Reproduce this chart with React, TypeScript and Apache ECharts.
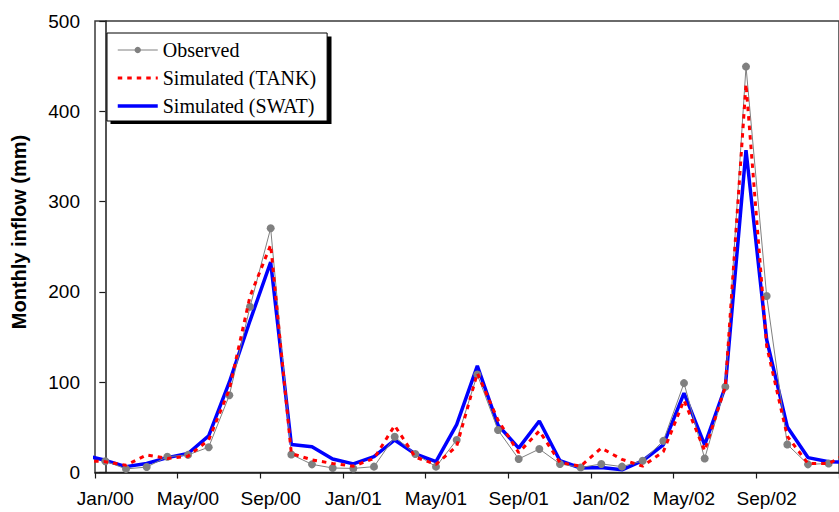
import { useEffect, useRef } from "react";
import * as echarts from "echarts";

// Month labels, Jan/00 .. Dec/02
const monthLabels = [
  "Jan/00", "Feb/00", "Mar/00", "Apr/00", "May/00", "Jun/00",
  "Jul/00", "Aug/00", "Sep/00", "Oct/00", "Nov/00", "Dec/00",
  "Jan/01", "Feb/01", "Mar/01", "Apr/01", "May/01", "Jun/01",
  "Jul/01", "Aug/01", "Sep/01", "Oct/01", "Nov/01", "Dec/01",
  "Jan/02", "Feb/02", "Mar/02", "Apr/02", "May/02", "Jun/02",
  "Jul/02", "Aug/02", "Sep/02", "Oct/02", "Nov/02", "Dec/02",
];

// Observed monthly inflow (mm), Jan/00 .. Dec/02
const observed = [
  12.5, 4, 6, 17.5, 19.5, 28, 85.5, 183.5, 270.5, 20, 9, 5,
  4.5, 6.5, 39.5, 20.5, 6.5, 36, 108.5, 47, 15, 26, 9.5, 5.5,
  9.5, 6.5, 13, 35, 99, 15.5, 95, 449.5, 195.5, 31, 9, 10,
];

// Simulated series run one month wider on each side: Dec/99 .. Jan/03
const tankSim = [
  13,
  12, 8, 19.5, 15.5, 18, 36, 92, 195, 252, 21, 14, 10,
  7, 15.5, 52, 17, 9, 29, 110, 58, 22, 46, 11, 7,
  27, 14.5, 7, 23, 80, 24, 95, 430, 140, 40, 10, 10,
  22,
];
const swatSim = [
  19,
  13.5, 6.5, 10, 16.5, 21, 40.5, 100, 168, 233, 31, 28.5, 15,
  9.5, 17.5, 36, 20.5, 12, 53, 118, 52.5, 27, 57, 13, 5,
  5.5, 3, 13, 30.5, 88, 30.5, 95, 357, 147, 50.5, 16.5, 12,
  11,
];

const yMin = 0;
const yMax = 500;
const yStep = 100;

const sansFont = '"Liberation Sans", Arial, Helvetica, sans-serif';
const serifFont = '"Liberation Serif", "Times New Roman", Times, serif';

export default function App() {
  const ref = useRef<HTMLDivElement>(null);

  useEffect(() => {
    if (!ref.current) return;
    const chart = echarts.init(ref.current, undefined, { renderer: "svg" });

    const obsData = observed.map((v, i) => [i, v]);
    const tankData = tankSim.map((v, i) => [i - 1, v]);
    const swatData = swatSim.map((v, i) => [i - 1, v]);

    const axisLine = { show: true, lineStyle: { color: "#1a1a1a", width: 1.5 } };
    const axisTick = { show: true, length: 6, lineStyle: { color: "#1a1a1a", width: 1.2 } };

    chart.setOption({
      animation: false,
      backgroundColor: "#ffffff",
      grid: {
        left: 95,
        top: 21,
        right: -5,
        bottom: 39.5,
        show: true,
        borderColor: "#3a3a3a",
        borderWidth: 1.5,
        backgroundColor: "transparent",
      },
      legend: {
        orient: "vertical",
        left: 107,
        top: 33,
        padding: [7, 11, 5, 9],
        itemWidth: 40,
        itemHeight: 8,
        itemGap: 8,
        selectedMode: false,
        backgroundColor: "#ffffff",
        borderColor: "#000000",
        borderWidth: 1,
        borderRadius: 0,
        textStyle: { fontFamily: serifFont, fontSize: 20, color: "#000" },
        data: [
          { name: "Observed", lineStyle: { width: 1 } },
          { name: "Simulated (TANK)", itemStyle: { opacity: 0 }, lineStyle: { width: 3 } },
          { name: "Simulated (SWAT)", itemStyle: { opacity: 0 }, lineStyle: { width: 3.5 } },
        ],
      },
      xAxis: [
        {
          type: "category",
          data: monthLabels,
          boundaryGap: true,
          position: "bottom",
          axisLine,
          axisTick: { ...axisTick, interval: 3, alignWithLabel: false },
          axisLabel: {
            interval: 3,
            margin: 16,
            color: "#000",
            fontFamily: sansFont,
            fontSize: 19,
          },
          splitLine: { show: false },
        },
        {
          type: "value",
          min: -0.5,
          max: 35.5,
          position: "bottom",
          show: false,
          splitLine: { show: false },
        },
      ],
      yAxis: {
        type: "value",
        min: yMin,
        max: yMax,
        interval: yStep,
        axisLine,
        axisTick,
        axisLabel: { margin: 15, color: "#000", fontFamily: sansFont, fontSize: 19 },
        splitLine: { show: false },
      },
      graphic: [
        {
          type: "rect",
          z: 0,
          shape: { x: 110.5, y: 36.5, width: 221, height: 87.5 },
          style: { fill: "#000000" },
        },
        {
          type: "text",
          x: 19,
          y: 232,
          rotation: Math.PI / 2,
          style: {
            text: "Monthly inflow (mm)",
            font: `bold 20px ${sansFont}`,
            fill: "#000",
            textAlign: "center",
            textVerticalAlign: "middle",
          },
        },
      ],
      series: [
        {
          name: "Simulated (SWAT)",
          type: "line",
          xAxisIndex: 1,
          data: swatData,
          symbol: "none",
          z: 2,
          lineStyle: { color: "#0000ff", width: 3.5 },
          itemStyle: { color: "#0000ff" },
        },
        {
          name: "Observed",
          type: "line",
          xAxisIndex: 1,
          data: obsData,
          symbol: "circle",
          symbolSize: 8,
          showAllSymbol: true,
          z: 3,
          lineStyle: { color: "#808080", width: 1 },
          itemStyle: { color: "#808080" },
        },
        {
          name: "Simulated (TANK)",
          type: "line",
          xAxisIndex: 1,
          data: tankData,
          symbol: "none",
          z: 4,
          lineStyle: { color: "#ff0000", width: 3, type: [4.5, 5] },
          itemStyle: { color: "#ff0000" },
        },
      ],
    });

    return () => chart.dispose();
  }, []);

  return (
    <div
      ref={ref}
      style={{ position: "absolute", left: 0, top: 0, width: 839, height: 512 }}
    />
  );
}
